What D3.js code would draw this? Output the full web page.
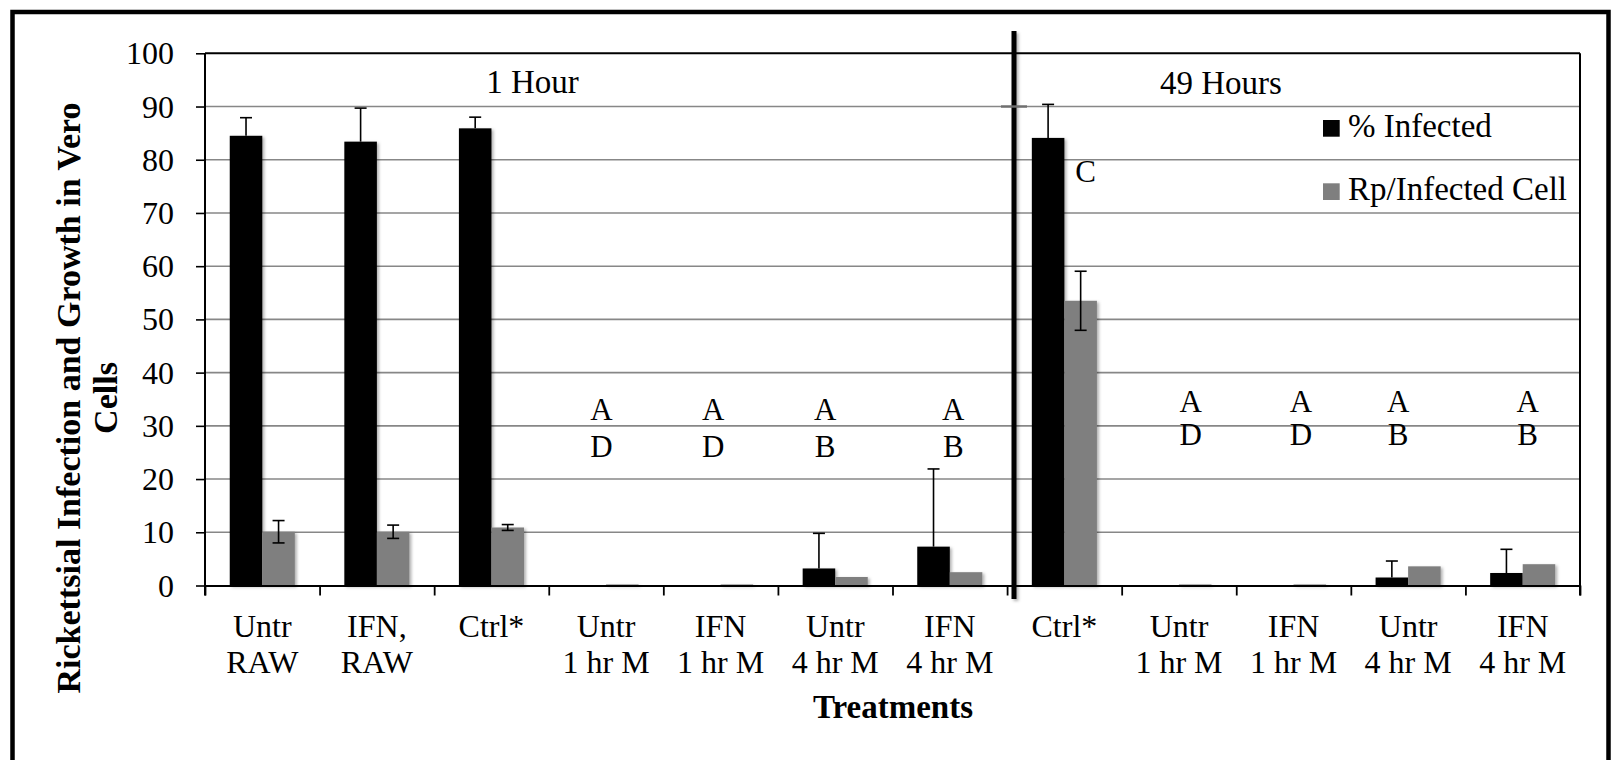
<!DOCTYPE html>
<html>
<head>
<meta charset="utf-8">
<script src="https://cdn.jsdelivr.net/npm/d3@7"></script>
<style>
  html, body { margin: 0; padding: 0; background: #fff; }
  svg { display: block; }
  text { font-family: "Liberation Serif", "Times New Roman", serif; fill: #000; }
</style>
</head>
<body>
<svg id="chart" width="1612" height="760"></svg>
<script>
// Treatment groups (first seven: 1 hour, last five: 49 hours)
const categories = [
  "Untr\nRAW", "IFN,\nRAW", "Ctrl*", "Untr\n1 hr M", "IFN\n1 hr M", "Untr\n4 hr M", "IFN\n4 hr M",
  "Ctrl*", "Untr\n1 hr M", "IFN\n1 hr M", "Untr\n4 hr M", "IFN\n4 hr M"
];
const seriesNames = ["% Infected", "Rp/Infected Cell"];
const pctInfected    = [84.5, 83.4, 85.9, 0,   0,   3.2, 7.3, 84.1, 0,   0,   1.5, 2.35];
const pctInfectedErr = [3.4,  6.3,  2.1,  0,   0,   6.6, 14.6, 6.3, 0,   0,   3.1, 4.45];
const rpPerCell      = [10.1, 10.1, 10.9, 0.2, 0.2, 1.6, 2.5, 53.5, 0.2, 0.2, 3.6, 4.0];
const rpPerCellErr   = [2.1,  1.25, 0.55, 0,   0,   0,   0,   5.55, 0,   0,   0,   0];
const yTicks = [0, 10, 20, 30, 40, 50, 60, 70, 80, 90, 100];
// Significance letters per group
const sigTop    = ["", "", "", "A", "A", "A", "A", "",  "A", "A", "A", "A"];
const sigBottom = ["", "", "", "D", "D", "B", "B", "",  "D", "D", "B", "B"];
const ctrlLetter = "C";
const periodLabels = ["1 Hour", "49 Hours"];

// ---- layout ----
const svg = d3.select("#chart");
const plotL = 205, plotR = 1580, plotT = 53.3, plotB = 585.5;
const idx = d3.range(categories.length);

const x = d3.scaleBand().domain(idx).range([plotL, plotR]).padding(0);
const xEdge = d3.scaleLinear().domain([0, categories.length]).range([plotL, plotR]);
const y = d3.scaleLinear().domain([0, 100]).range([plotB, plotT]);
const bw = x.bandwidth();
const barW = bw * 0.284;

const defs = svg.append("defs");
const shadow = defs.append("filter").attr("id", "shadow")
  .attr("x", "-20%").attr("y", "-5%").attr("width", "150%").attr("height", "115%");
shadow.append("feDropShadow").attr("dx", 2).attr("dy", 1.5).attr("stdDeviation", 1.6)
  .attr("flood-color", "#000").attr("flood-opacity", 0.3);
const dividerShadow = defs.append("filter").attr("id", "dividerShadow")
  .attr("filterUnits", "userSpaceOnUse")
  .attr("x", 1000).attr("y", 20).attr("width", 30).attr("height", 600);
dividerShadow.append("feDropShadow").attr("dx", 2).attr("dy", 2).attr("stdDeviation", 1.6)
  .attr("flood-color", "#000").attr("flood-opacity", 0.3);

// outer frame
svg.append("rect").attr("x", 12.5).attr("y", 12).attr("width", 1596).attr("height", 800)
  .attr("fill", "none").attr("stroke", "#000").attr("stroke-width", 4.5);

// gridlines
svg.append("g").selectAll("line").data(yTicks.filter(v => v > 0 && v < 100)).join("line")
  .attr("x1", plotL).attr("x2", plotR)
  .attr("y1", d => y(d)).attr("y2", d => y(d))
  .attr("stroke", "#878787").attr("stroke-width", 1.6);

// plot top and right border
svg.append("line").attr("x1", plotL).attr("x2", plotR).attr("y1", y(100)).attr("y2", y(100))
  .attr("stroke", "#000").attr("stroke-width", 2);
svg.append("line").attr("x1", plotR).attr("x2", plotR).attr("y1", y(100)).attr("y2", plotB + 10)
  .attr("stroke", "#000").attr("stroke-width", 2);

// bars
const bars = svg.append("g").attr("filter", "url(#shadow)");
bars.selectAll("rect.inf").data(idx).join("rect").attr("class", "inf")
  .attr("x", i => x(i) + bw / 2 - barW)
  .attr("width", barW)
  .attr("y", i => y(pctInfected[i]))
  .attr("height", i => y(0) - y(pctInfected[i]))
  .attr("fill", "#030303");
bars.selectAll("rect.rp").data(idx).join("rect").attr("class", "rp")
  .attr("x", i => x(i) + bw / 2)
  .attr("width", barW)
  .attr("y", i => y(rpPerCell[i]))
  .attr("height", i => y(0) - y(rpPerCell[i]))
  .attr("fill", "#7f7f7f");

// error bars (plusOnly: only the upper whisker)
function errorBars(vals, errs, cx, plusOnly) {
  const g = svg.append("g").attr("stroke", "#000").attr("stroke-width", 1.6);
  idx.filter(i => errs[i] > 0).forEach(i => {
    const xc = cx(i), y1 = y(vals[i] + errs[i]);
    const y0 = plusOnly ? y(vals[i]) : y(vals[i] - errs[i]);
    g.append("line").attr("x1", xc).attr("x2", xc).attr("y1", y1).attr("y2", y0);
    g.append("line").attr("x1", xc - 6).attr("x2", xc + 6).attr("y1", y1).attr("y2", y1);
    if (!plusOnly) g.append("line").attr("x1", xc - 6).attr("x2", xc + 6).attr("y1", y0).attr("y2", y0);
  });
}
errorBars(pctInfected, pctInfectedErr, i => x(i) + bw / 2 - barW / 2, true);
errorBars(rpPerCell, rpPerCellErr, i => x(i) + bw / 2 + barW / 2, false);

// y axis
const yAxis = svg.append("g").attr("transform", `translate(${plotL},0)`)
  .call(d3.axisLeft(y).tickValues(yTicks).tickSize(9).tickPadding(22).tickSizeOuter(0));
yAxis.select(".domain").attr("stroke", "#000").attr("stroke-width", 2)
  .attr("d", `M0,${plotT}V${plotB + 10}`);
yAxis.selectAll(".tick line").attr("stroke", "#000").attr("stroke-width", 1.6);
yAxis.selectAll(".tick text").attr("font-size", 32).attr("font-family", "Liberation Serif")
  .attr("dy", "0.33em");

// x axis with ticks on group boundaries
const xAxis = svg.append("g").attr("transform", `translate(0,${plotB})`)
  .call(d3.axisBottom(xEdge).tickValues(d3.range(categories.length + 1))
    .tickSize(10).tickSizeOuter(0).tickFormat(""));
xAxis.select(".domain").attr("stroke", "#000").attr("stroke-width", 2.2);
xAxis.selectAll(".tick line").attr("stroke", "#000").attr("stroke-width", 1.8);

// category labels
const labelG = svg.append("g").attr("font-size", 32).attr("text-anchor", "middle");
idx.forEach(i => {
  const t = labelG.append("text").attr("x", x(i) + bw / 2).attr("y", 636.7);
  categories[i].split("\n").forEach((line, k) => {
    t.append("tspan").attr("x", x(i) + bw / 2).attr("dy", k === 0 ? 0 : 36.5).text(line);
  });
});

// divider between the two time points
svg.append("rect").attr("x", 1011.5).attr("y", 31).attr("width", 5).attr("height", 568)
  .attr("fill", "#000").attr("filter", "url(#dividerShadow)");
svg.append("line").attr("x1", 1001).attr("x2", 1027).attr("y1", y(90)).attr("y2", y(90))
  .attr("stroke", "#6f6f6f").attr("stroke-width", 2.4);

// period labels
svg.append("text").attr("x", 532.5).attr("y", 93.3).attr("font-size", 33)
  .attr("text-anchor", "middle").text(periodLabels[0]);
svg.append("text").attr("x", 1221).attr("y", 94.3).attr("font-size", 33)
  .attr("text-anchor", "middle").text(periodLabels[1]);

// significance letters
const letterNudge = [0, 0, 0, -4.5, -7.4, -10, 3.5, 0, 11.7, 7.5, -10, 5];
const letterG = svg.append("g").attr("font-size", 31).attr("text-anchor", "middle");
idx.forEach(i => {
  const cx = x(i) + bw / 2 + letterNudge[i];
  const late = i >= 7;
  if (sigTop[i]) letterG.append("text").attr("x", cx).attr("y", late ? 411.7 : 420).text(sigTop[i]);
  if (sigBottom[i]) letterG.append("text").attr("x", cx).attr("y", late ? 445 : 456.7).text(sigBottom[i]);
});
letterG.append("text").attr("x", x(7) + bw / 2 + 21.3).attr("y", 181.7).text(ctrlLetter);

// legend
const legendColors = ["#030303", "#7f7f7f"];
const legend = svg.append("g");
seriesNames.forEach((name, k) => {
  const ly = 120 + k * 63.3;
  legend.append("rect").attr("x", 1323).attr("y", ly).attr("width", 16.7).attr("height", 16.7)
    .attr("fill", legendColors[k]);
  legend.append("text").attr("x", 1348).attr("y", ly + 16.5).attr("font-size", 33).text(name);
});

// axis titles
svg.append("text").attr("x", 893).attr("y", 718).attr("font-size", 33).attr("font-weight", "bold")
  .attr("text-anchor", "middle").text("Treatments");
const yTitle = svg.append("text").attr("transform", "translate(80,398) rotate(-90)")
  .attr("font-size", 34).attr("font-weight", "bold").attr("text-anchor", "middle");
yTitle.append("tspan").attr("x", 0).attr("y", 0).text("Rickettsial Infection and Growth in Vero");
yTitle.append("tspan").attr("x", 0).attr("y", 37).text("Cells");
</script>
</body>
</html>
